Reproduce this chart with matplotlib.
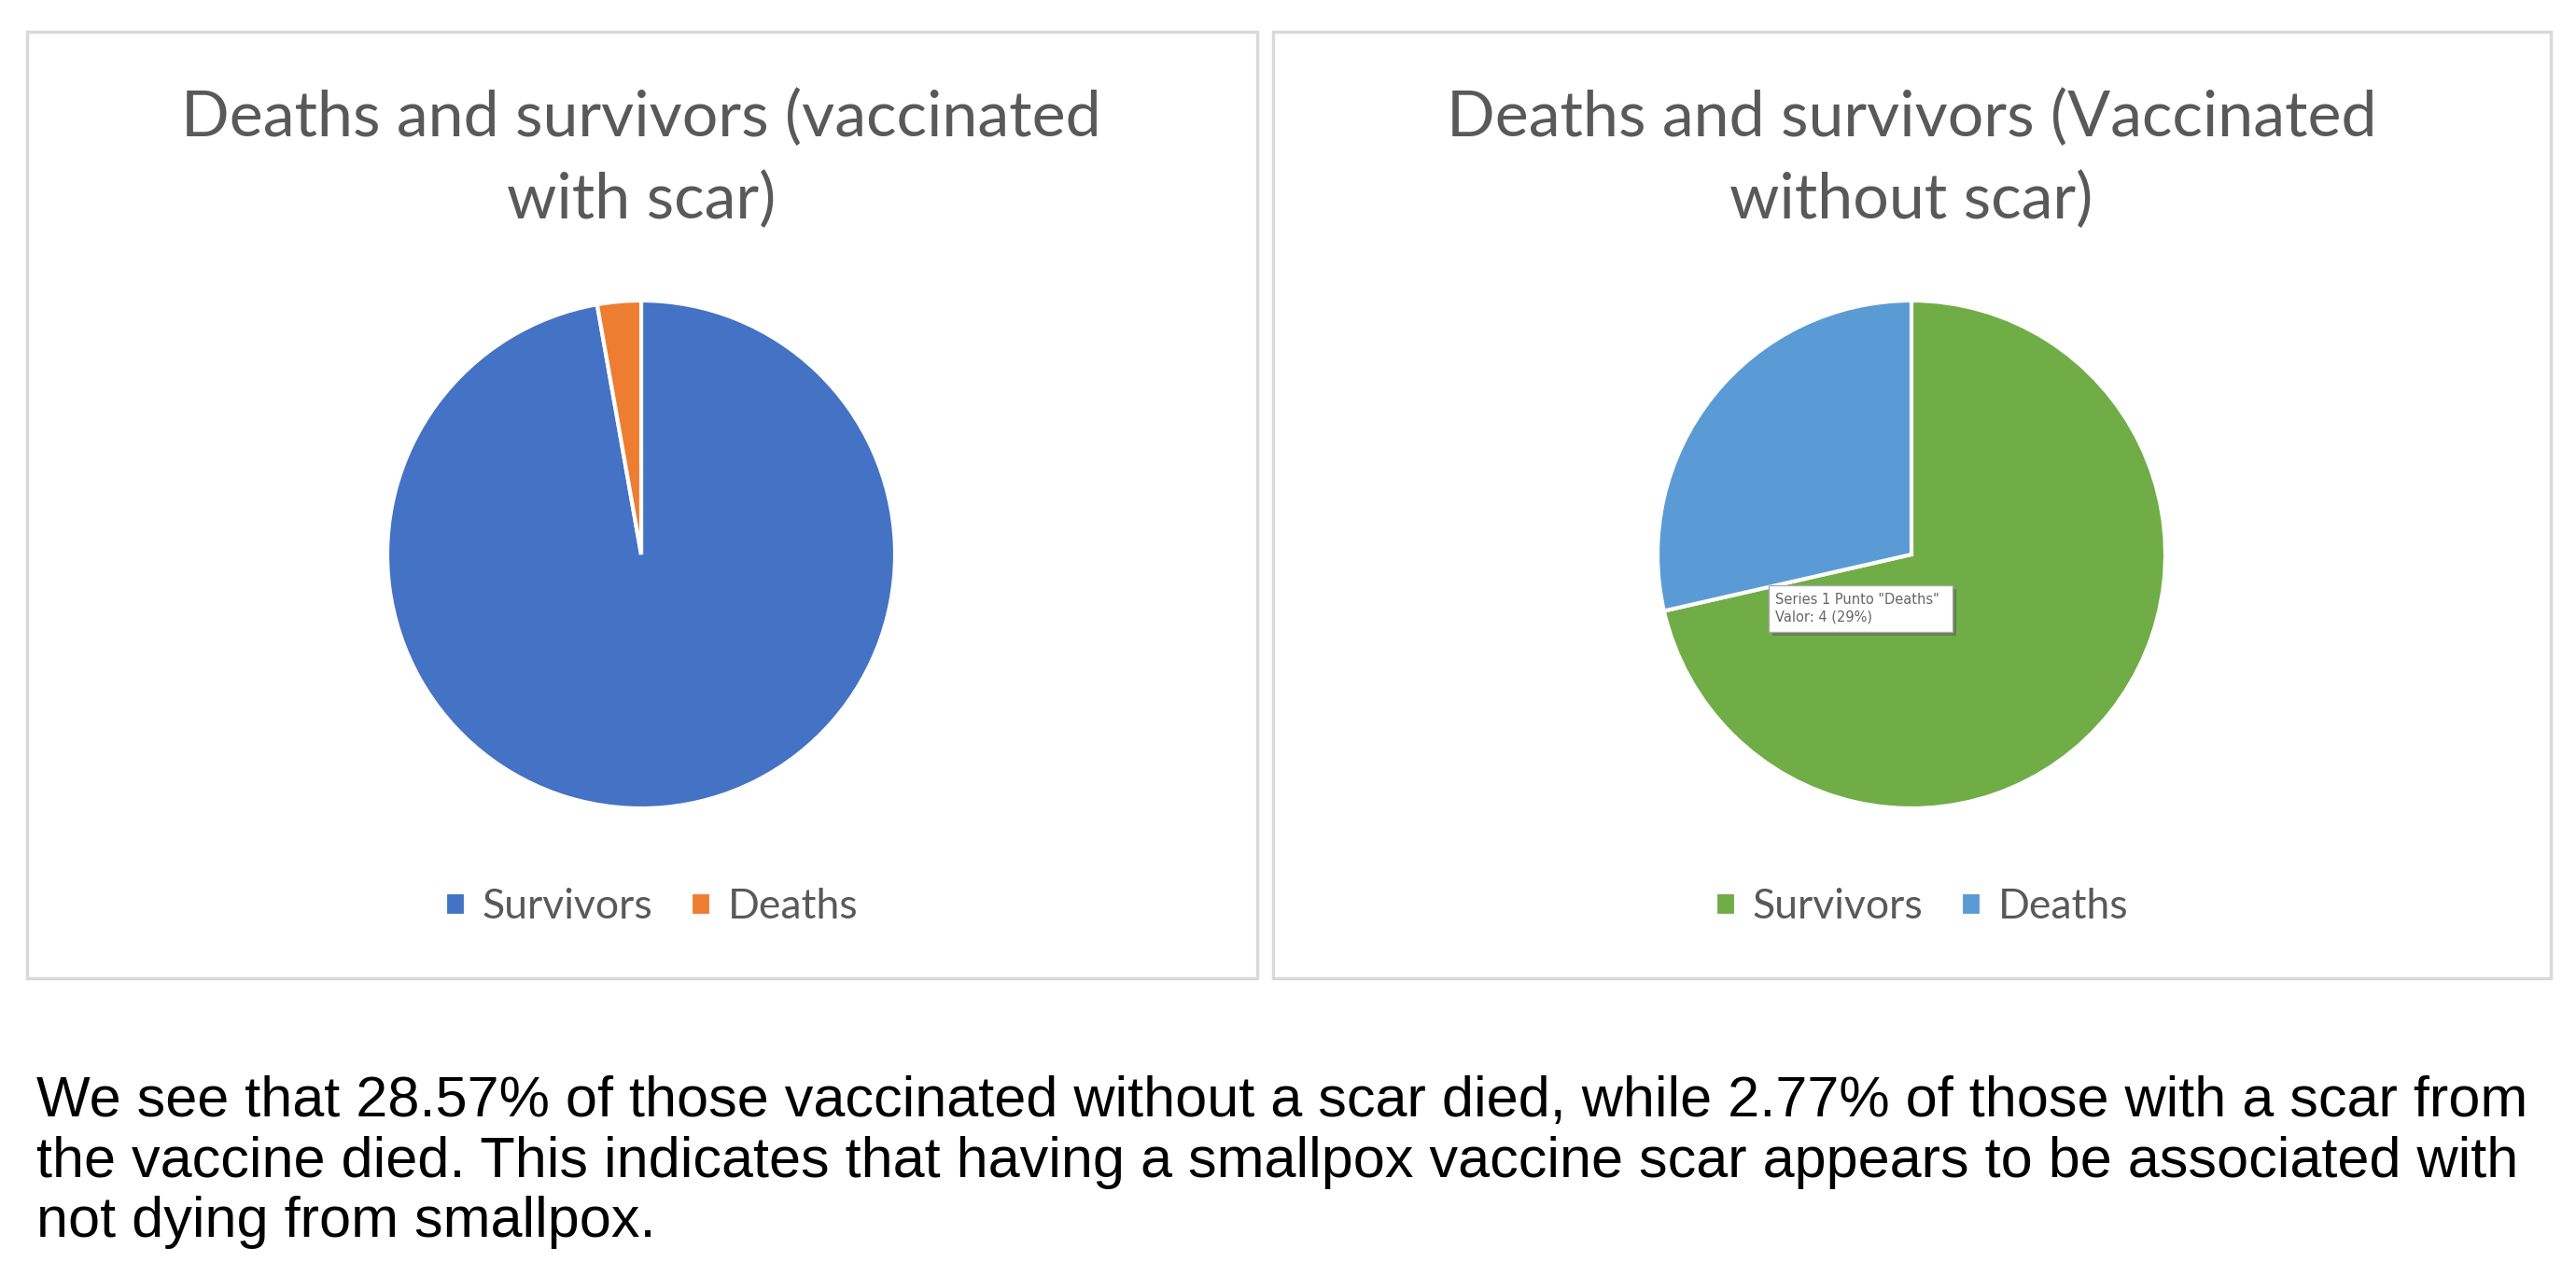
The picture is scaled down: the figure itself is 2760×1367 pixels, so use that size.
import matplotlib.pyplot as plt
from matplotlib.patches import Rectangle

W, H = 2760, 1367

# data
labels = ['Survivors', 'Deaths']
scar_values = [35, 1]
noscar_values = [10, 4]
scar_colors = ['#4472C4', '#ED7D31']
noscar_colors = ['#70AD47', '#5B9BD5']
titles = ['Deaths and survivors (vaccinated\nwith scar)',
          'Deaths and survivors (Vaccinated\nwithout scar)']
caption = ('We see that 28.57% of those vaccinated without a scar died, while 2.77% of those with a scar from\n'
           'the vaccine died. This indicates that having a smallpox vaccine scar appears to be associated with\n'
           'not dying from smallpox.')
tooltip = 'Series 1 Punto "Deaths"\nValor: 4 (29%)'


def fx(x):
    return x / W


def fy(y):
    # pixel y from top -> figure fraction
    return 1 - y / H


fig = plt.figure(figsize=(W / 100, H / 100), dpi=100)
fig.patch.set_facecolor('white')

# panel borders
for x0, x1 in [(29, 1347), (1364, 2733)]:
    fig.patches.append(Rectangle((fx(x0), fy(1048)), fx(x1 - x0), (1048 - 34) / H,
                                 transform=fig.transFigure, fill=False,
                                 edgecolor='#D9D9D9', linewidth=2.5))

R = 272
panels = [(687, scar_values, scar_colors, titles[0]),
          (2048, noscar_values, noscar_colors, titles[1])]

for cx, vals, cols, title in panels:
    ax = fig.add_axes([fx(cx - R), fy(594 + R), fx(2 * R), 2 * R / H])
    wedges, _ = ax.pie(vals, colors=cols, startangle=90, counterclock=False,
                       radius=1, wedgeprops=dict(edgecolor='white', linewidth=3))
    ax.set_xlim(-1, 1)
    ax.set_ylim(-1, 1)
    ax.set_aspect('equal')
    ax.axis('off')

    fig.text(fx(cx), fy(171), title, ha='center', va='center', fontsize=49,
             family='Lato', color='#595959', linespacing=1.5)

    leg = fig.legend(wedges, labels, loc='center', bbox_to_anchor=(fx(cx + 11), fy(972)),
                     ncol=2, frameon=False, handlelength=0.5, handleheight=0.5,
                     handletextpad=0.4, columnspacing=0.9, prop={'family': 'Lato', 'size': 32})
    for t in leg.get_texts():
        t.set_color('#595959')

# tooltip
fig.patches.append(Rectangle((fx(1899), fy(681)), fx(197), 50 / H, transform=fig.transFigure,
                             facecolor='#555555', edgecolor='none', alpha=0.5))
fig.patches.append(Rectangle((fx(1895), fy(677)), fx(197), 50 / H, transform=fig.transFigure,
                             facecolor='white', edgecolor='#AAAAAA', linewidth=1))
fig.text(fx(1902), fy(652), tooltip, ha='left', va='center', fontsize=10.5,
         family='DejaVu Sans', color='#666666', linespacing=1.3)

fig.text(fx(39), fy(1245), caption, ha='left', va='center', fontsize=44,
         family='Liberation Sans', color='black', linespacing=1.18)

fig.savefig('out.png', dpi=100)
